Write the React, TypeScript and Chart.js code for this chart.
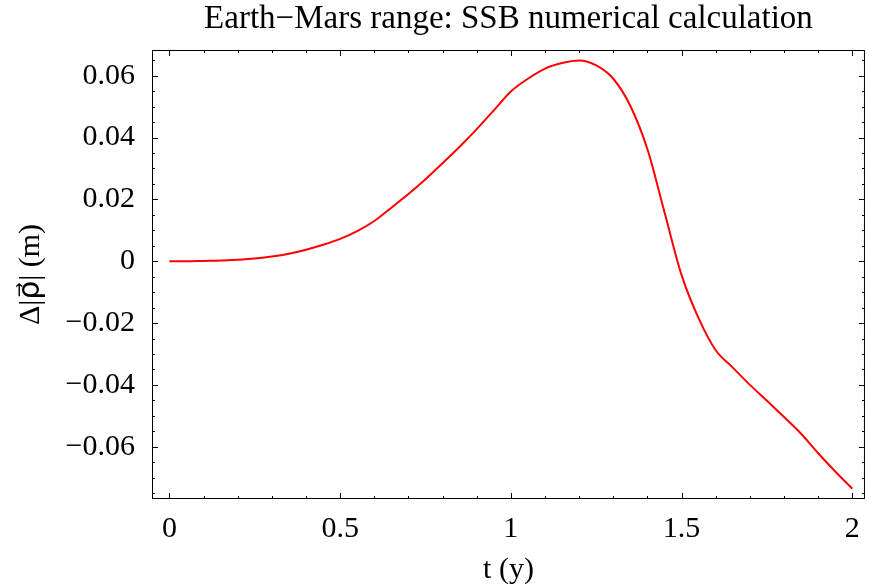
import { useEffect, useRef } from "react";
import { Chart, registerables } from "chart.js";

Chart.register(...registerables);

// ---- data ----
const T_YEARS = [
  0, 0.05, 0.1, 0.15, 0.2, 0.25, 0.3, 0.35, 0.4, 0.45, 0.5, 0.55, 0.6, 0.65, 0.7,
  0.75, 0.8, 0.85, 0.9, 0.95, 1.0, 1.05, 1.1, 1.15, 1.2, 1.25, 1.3, 1.35, 1.4,
  1.45, 1.5, 1.55, 1.6, 1.65, 1.7, 1.75, 1.8, 1.85, 1.9, 1.95, 2.0,
];
const DELTA_RHO_M = [
  0, 0.0, 0.0001, 0.0002, 0.0005, 0.0009, 0.0015, 0.0024, 0.0037, 0.0053, 0.0072,
  0.0097, 0.013, 0.0173, 0.0217, 0.0265, 0.0317, 0.037, 0.0427, 0.0488, 0.0549,
  0.059, 0.0623, 0.0641, 0.0649, 0.0633, 0.059, 0.0502, 0.0362, 0.0158, -0.0045,
  -0.0185, -0.0288, -0.0344, -0.04, -0.0451, -0.0504, -0.0558, -0.0621, -0.068,
  -0.0736,
];

const X_TICKS = [0, 0.5, 1, 1.5, 2];
const X_TICK_LABELS = ["0", "0.5", "1", "1.5", "2"];
const Y_TICKS = [-0.06, -0.04, -0.02, 0, 0.02, 0.04, 0.06];
const Y_TICK_LABELS = ["\u22120.06", "\u22120.04", "\u22120.02", "0", "0.02", "0.04", "0.06"];
const X_RANGE = [-0.051, 2.037];
const Y_RANGE = [-0.0769, 0.0683];

const TITLE = "Earth\u2212Mars range: SSB numerical calculation";
const X_TITLE = "t (y)";
const Y_TITLE = "\u0394|\u03C1\u20D7| (m)";

const FONT = "'Liberation Serif', 'Times New Roman', serif";
const Y_TITLE_FONT = "'Liberation Serif', 'DejaVu Sans', 'DejaVu Serif', serif";

const framePlugin = {
  id: "mmaFrame",
  afterDatasetsDraw(chart: any) {
    const { ctx, chartArea, scales } = chart;
    const { left, right, top, bottom } = chartArea;
    const x = scales.x;
    const y = scales.y;
    ctx.save();
    ctx.strokeStyle = "#000";
    ctx.lineWidth = 1;
    ctx.strokeRect(left + 0.5, top + 0.5, right - left - 1, bottom - top - 1);
    ctx.beginPath();
    const xt = (v: number, len: number) => {
      const px = Math.round(x.getPixelForValue(v)) + 0.5;
      ctx.moveTo(px, bottom);
      ctx.lineTo(px, bottom - len);
      ctx.moveTo(px, top);
      ctx.lineTo(px, top + len);
    };
    const yt = (v: number, len: number) => {
      const py = Math.round(y.getPixelForValue(v)) + 0.5;
      ctx.moveTo(left, py);
      ctx.lineTo(left + len, py);
      ctx.moveTo(right, py);
      ctx.lineTo(right - len, py);
    };
    X_TICKS.forEach((v) => xt(v, 6));
    for (let i = 1; i < 20; i++) if (i % 5 !== 0) xt(i / 10, 3);
    Y_TICKS.forEach((v) => yt(v, 6));
    for (let k = -16; k <= 16; k++) {
      const v = k * 0.005;
      if (k % 4 === 0) continue;
      if (v <= Y_RANGE[0] || v >= Y_RANGE[1]) continue;
      yt(v, 3);
    }
    ctx.stroke();
    ctx.restore();
  },
};

export default function App() {
  const ref = useRef<HTMLCanvasElement | null>(null);
  useEffect(() => {
    if (!ref.current) return;
    const chart = new Chart(ref.current, {
      type: "line",
      data: {
        datasets: [
          {
            data: T_YEARS.map((t, i) => ({ x: t, y: DELTA_RHO_M[i] })),
            borderColor: "#ff0000",
            borderWidth: 2,
            pointRadius: 0,
            cubicInterpolationMode: "monotone",
            fill: false,
          },
        ],
      },
      options: {
        animation: false,
        responsive: false,
        devicePixelRatio: 1,
        layout: { padding: { left: 0, right: 1, top: 0, bottom: 0 } },
        plugins: {
          legend: { display: false },
          tooltip: { enabled: false },
          title: {
            display: true,
            text: TITLE,
            fullSize: false,
            color: "#000",
            font: { family: FONT, size: 33, weight: "normal", lineHeight: 1 },
            padding: { top: 3, bottom: 14 },
          },
        },
        scales: {
          x: {
            type: "linear",
            min: X_RANGE[0],
            max: X_RANGE[1],
            afterBuildTicks: (s: any) => {
              s.ticks = X_TICKS.map((value) => ({ value }));
            },
            afterFit: (s: any) => {
              s.height = 88;
            },
            grid: { display: false, drawTicks: false },
            border: { display: false },
            ticks: {
              color: "#000",
              font: { family: FONT, size: 30, lineHeight: 1 },
              padding: 15,
              maxRotation: 0,
              autoSkip: false,
              callback: (_v: any, i: number) => X_TICK_LABELS[i],
            },
            title: {
              display: true,
              text: X_TITLE,
              color: "#000",
              font: { family: FONT, size: 30, lineHeight: 1 },
              padding: { top: 0, bottom: 2 },
            },
          },
          y: {
            type: "linear",
            min: Y_RANGE[0],
            max: Y_RANGE[1],
            afterBuildTicks: (s: any) => {
              s.ticks = Y_TICKS.map((value) => ({ value }));
            },
            afterFit: (s: any) => {
              s.width = 152;
            },
            grid: { display: false, drawTicks: false },
            border: { display: false },
            ticks: {
              color: "#000",
              font: { family: FONT, size: 30, lineHeight: 1 },
              padding: 17,
              autoSkip: false,
              callback: (_v: any, i: number) => Y_TICK_LABELS[i],
            },
            title: {
              display: true,
              text: Y_TITLE,
              color: "#000",
              font: { family: Y_TITLE_FONT, size: 30, lineHeight: 1 },
              padding: { top: 16, bottom: 0 },
            },
          },
        },
      },
      plugins: [framePlugin],
    } as any);
    return () => chart.destroy();
  }, []);
  return (
    <div style={{ position: "absolute", left: 0, top: 0, width: 875, height: 587, background: "#fff" }}>
      <canvas ref={ref} width={875} height={587} style={{ display: "block" }} />
    </div>
  );
}
